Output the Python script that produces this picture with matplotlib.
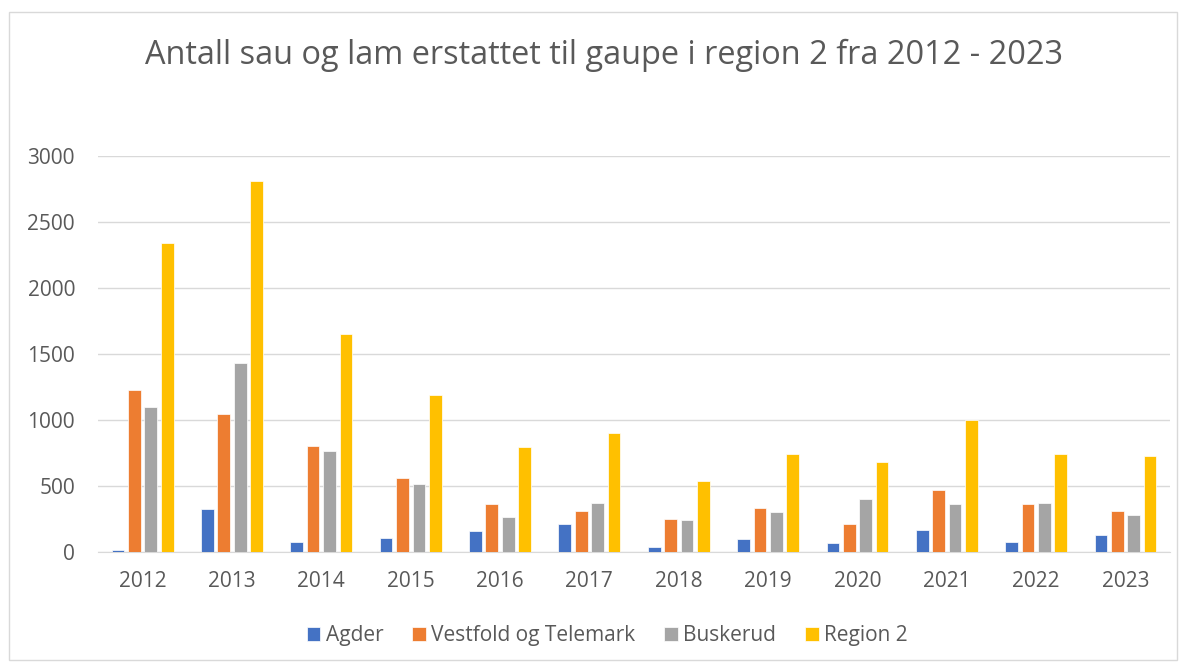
import numpy as np
import matplotlib.pyplot as plt
from matplotlib.patches import Rectangle

years = ["2012", "2013", "2014", "2015", "2016", "2017", "2018", "2019", "2020", "2021", "2022", "2023"]
agder = [13, 326, 76, 106, 157, 212, 38, 98, 68, 164, 76, 129]
vestfold_telemark = [1227, 1045, 803, 561, 364, 308, 250, 333, 210, 467, 366, 311]
buskerud = [1096, 1429, 763, 515, 265, 374, 242, 300, 399, 361, 371, 283]
region2 = [2343, 2811, 1649, 1187, 795, 899, 538, 740, 684, 1000, 740, 727]

series = [
    ("Agder", agder, "#4472c4"),
    ("Vestfold og Telemark", vestfold_telemark, "#ed7d31"),
    ("Buskerud", buskerud, "#a5a5a5"),
    ("Region 2", region2, "#ffc000"),
]

plt.rcParams['font.family'] = ['Open Sans', 'DejaVu Sans']
txt = "#595959"

fig = plt.figure(figsize=(11.86, 6.68), dpi=100)
ax = fig.add_axes([0.0826, 0.1737, 0.904, 0.5928])

x = np.arange(len(years))
pitch = 0.183
width = 0.142
for i, (name, vals, col) in enumerate(series):
    ax.bar(x + (i - 1.5) * pitch, vals, width, color=col, label=name,
           edgecolor="white", linewidth=0.5, zorder=3)

ax.set_xlim(-0.5, len(years) - 0.5)
ax.set_ylim(0, 3000)
ax.set_yticks(range(0, 3001, 500))
ax.set_xticks(x)
ax.set_xticklabels(years)
ax.grid(axis="y", color="#d9d9d9", linewidth=1, zorder=0)
for s in ["top", "right", "left"]:
    ax.spines[s].set_visible(False)
ax.spines["bottom"].set_color("#d9d9d9")
ax.tick_params(axis="both", length=0, labelsize=15, colors=txt)
ax.tick_params(axis="y", pad=16.5)
ax.tick_params(axis="x", pad=14)

fig.text(0.509, 0.917, "Antall sau og lam erstattet til gaupe i region 2 fra 2012 - 2023",
         ha="center", va="center", fontsize=23.4, color=txt)

ax.legend(loc="center", bbox_to_anchor=(0.512, 0.048), bbox_transform=fig.transFigure,
          ncol=4, frameon=False, fontsize=15, labelcolor=txt,
          handlelength=0.65, handleheight=0.65, handletextpad=0.25, columnspacing=1.4)

fig.patches.append(Rectangle((0.008, 0.012), 0.984, 0.97, transform=fig.transFigure,
                             fill=False, edgecolor="#d9d9d9", linewidth=1))

fig.savefig("out.png", dpi=100)
